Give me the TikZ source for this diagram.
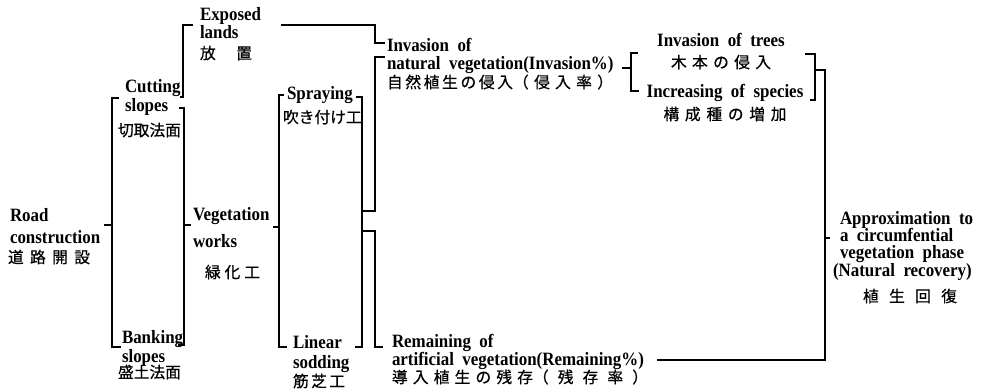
\documentclass[tikz,border=0pt]{standalone}
\usepackage{fontspec}
\setmainfont{Liberation Serif}[WordSpace=2,FakeStretch=0.9]
\newfontfamily\jpf{Noto Sans CJK JP}[FakeBold=0.6]
\newcommand\en{\fontsize{14.1pt}{14pt}\selectfont\bfseries}
\newcommand\jpt{\jpf\mdseries\fontsize{11.8pt}{14pt}\selectfont}
\newcommand\jw[2]{{\jpt\makebox[#1]{#2}}}
\begin{document}
\begin{tikzpicture}[x=0.75pt,y=-0.75pt,line width=1.5pt,
  lbl/.style={inner sep=0pt,outer sep=0pt,anchor=base west,align=left,font=\en},
  lblc/.style={lbl,anchor=base,align=center}]
\fill[white] (0,0) rectangle (991,392);
\useasboundingbox (0,0) rectangle (991,392);

% ---- text nodes (placed at the baseline of their last line)
\node[lbl] (road) at (10,263) {Road\\[2.5pt]construction\\[1pt]\hspace*{-1.5pt}\jw{61.5pt}{道\hfill 路\hfill 開\hfill 設}};
\node[lbl] (exposed) at (200,59) {Exposed\\[-0.5pt]lands\\[1pt]\jw{39pt}{放\hfill 置}};
\node[lbl] (cutting) at (125,136) {Cutting\\[0.25pt]slopes\\[4pt]\hspace*{-5.25pt}{\jpt 切取法面}};
\node[lbl] (banking) at (122,378) {Banking\\[0.25pt]slopes\\[-2pt]\hspace*{-3pt}{\jpt 盛土法面}};
\node[lbl] (veg) at (193,278) {Vegetation\\[6.25pt]works\\[9.25pt]\hspace*{9pt}\jw{41.25pt}{緑\hfill 化\hfill 工}};
\node[lbl] (spray) at (287,123) {Spraying\\[3.25pt]\hspace*{-3pt}{\jpt 吹き付け工}};
\node[lbl] (linear) at (293,387) {Linear\\[1pt]sodding\\[0.25pt]\jw{39pt}{筋\hfill 芝\hfill 工}};
\node[lbl] (invasion) at (387,88) {Invasion of\\[-0.5pt]natural vegetation(Invasion\%)\\[-0.5pt]\jw{94.5pt}{自\hfill 然\hfill 植\hfill 生\hfill の\hfill 侵\hfill 入}\jw{75pt}{（\hfill 侵\hfill 入\hfill 率\hfill ）}};
\node[lbl] (remaining) at (392,383) {Remaining of\\[-0.5pt]artificial vegetation(Remaining\%)\\[-0.5pt]\jw{105.75pt}{導\hfill 入\hfill 植\hfill 生\hfill の\hfill 残\hfill 存}\jw{86.25pt}{（\hfill 残\hfill 存\hfill 率\hfill ）}};
\node[lblc] (trees) at (721,68) {Invasion of trees\\[1.75pt]\jw{75pt}{木\hfill 本\hfill の\hfill 侵\hfill 入}};
\node[lblc] (species) at (725,120) {Increasing of species\\[2.5pt]\jw{92.25pt}{構\hfill 成\hfill 種\hfill の\hfill 増\hfill 加}};
\node[lbl] (approx) at (840,302) {Approximation to\\[-1pt]a circumfential\\[-1pt]vegetation phase\\[-0.5pt]\hspace*{-5.25pt}(Natural recovery)\\[5pt]\hspace*{17.25pt}\jw{70.5pt}{植\hfill 生\hfill 回\hfill 復}};

% ---- bracket coordinates
\coordinate (rA) at (112,98);  \coordinate (rB) at (112,347); \coordinate (rM) at (112,225);
\coordinate (cA) at (183,25);  \coordinate (cB) at (183,97);
\coordinate (vA) at (184,108); \coordinate (vB) at (184,345); \coordinate (vM) at (184,225);
\coordinate (sA) at (279,95);  \coordinate (sB) at (279,347); \coordinate (sM) at (279,227);
\coordinate (jA) at (362,97);  \coordinate (jB) at (362,347);
\coordinate (jU) at (362,211); \coordinate (jD) at (362,231);
\coordinate (iN) at (375,57);  \coordinate (rmN) at (375,347);
\coordinate (eL) at (281,25);  \coordinate (eR) at (375,25); \coordinate (iO) at (375,43);
\coordinate (gA) at (631,53);  \coordinate (gB) at (631,91); \coordinate (gM) at (631,68);
\coordinate (hA) at (815,54);  \coordinate (hB) at (815,100); \coordinate (hM) at (815,70);
\coordinate (kT) at (825,70);  \coordinate (kB) at (825,360); \coordinate (kM) at (825,238);
\coordinate (rmE) at (657,360);

% ---- connectors
\draw (rA) ++(7,0) -- ++(-7,0) -- (rB) -- ++(9,0);
\draw (rM) -- ++(-8,0);
\draw (cB) ++(-3,0) -- ++(3,0) -- (cA) -- ++(10,0);
\draw (vA) ++(-5,0) -- ++(5,0) -- (vB) -- ++(-6,0);
\draw (vM) -- ++(7,0);
\draw (sA) ++(5,0) -- ++(-5,0) -- (sB) -- ++(8,0);
\draw (sM) -- ++(-6,0);
\draw (jA) ++(-6,0) -- ++(6,0) -- (jB) -- ++(-7,0);
\draw (jU) -| (iN) -- ++(10,0);
\draw (jD) -| (rmN) -- ++(8,0);
\draw (eL) -- (eR) -- (iO) -- ++(10,0);
\draw (gA) ++(7,0) -- ++(-7,0) -- (gB) -- ++(8,0);
\draw (gM) -- ++(-9,0);
\draw (hA) ++(-10,0) -- ++(10,0) -- (hB) -- ++(-5,0);
\draw (hM) -- (kT) -- (kB) -- (rmE);
\draw (kM) -- ++(5,0);
\end{tikzpicture}
\end{document}
